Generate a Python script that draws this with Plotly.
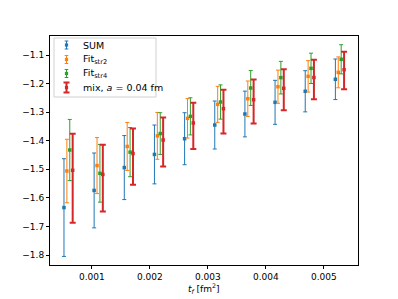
import plotly.graph_objects as go

# ---- data ----
t_f = [0.00052, 0.00104, 0.00156, 0.00208, 0.00260, 0.00312, 0.00364, 0.00416, 0.00468, 0.00520]
offsets = [0.0, 0.00005, 0.00010, 0.00015]

sum_y = [-1.634, -1.574, -1.494, -1.448, -1.393, -1.345, -1.3065, -1.2657, -1.227, -1.185]
sum_err = [0.171, 0.131, 0.112, 0.103, 0.091, 0.084, 0.080, 0.077, 0.072, 0.071]

str2_y = [-1.506, -1.487, -1.420, -1.383, -1.3217, -1.2727, -1.253, -1.211, -1.1747, -1.1607]
str2_err = [0.111, 0.098, 0.084, 0.082, 0.069, 0.063, 0.062, 0.058, 0.055, 0.054]

str4_y = [-1.4325, -1.514, -1.440, -1.375, -1.3147, -1.2645, -1.2155, -1.1793, -1.1467, -1.115]
str4_err = [0.107, 0.101, 0.086, 0.073, 0.065, 0.060, 0.061, 0.057, 0.053, 0.051]

mix_y = [-1.5035, -1.518, -1.445, -1.3975, -1.338, -1.288, -1.2565, -1.2167, -1.179, -1.1513]
mix_err_plus = [0.128, 0.104, 0.088, 0.079, 0.071, 0.066, 0.071, 0.067, 0.062, 0.063]
mix_err_minus = [0.184, 0.130, 0.109, 0.093, 0.091, 0.087, 0.083, 0.077, 0.076, 0.069]

names = ["SUM", "Fit<sub>str2</sub>", "Fit<sub>str4</sub>", "mix, <i>a</i> = 0.04 fm"]
colors = ["#1f77b4", "#ff7f0e", "#2ca02c", "#d62728"]
x_title = "<i>t</i><sub><i>f</i></sub> [fm<sup>2</sup>]"

x_ticks = [0.001, 0.002, 0.003, 0.004, 0.005]
x_ticklabels = ["0.001", "0.002", "0.003", "0.004", "0.005"]
y_ticks = [-1.8, -1.7, -1.6, -1.5, -1.4, -1.3, -1.2, -1.1]
y_ticklabels = ["\u22121.8", "\u22121.7", "\u22121.6", "\u22121.5", "\u22121.4", "\u22121.3", "\u22121.2", "\u22121.1"]

FONT = "DejaVu Sans"

# page geometry: the html body has an 8px margin, so the figure is offset by 8px
BODY = 8
W, H = 398 - BODY, 299 - BODY
ML, MR, MT, MB = 50 - BODY, 40, 36 - BODY, 34
PLOT_L, PLOT_T = 50, 36                      # plot area top-left on the page
PW, PH = W - ML - MR, H - MT - MB            # 308 x 229


def dx(px):
    return (px - PLOT_L) / PW


def dy(py):
    return 1 - (py - PLOT_T) / PH


fig = go.Figure()

series = [
    (sum_y, sum_err, sum_err, 1, 2),
    (str2_y, str2_err, str2_err, 1, 2),
    (str4_y, str4_err, str4_err, 1, 2),
    (mix_y, mix_err_plus, mix_err_minus, 2, 3),
]

for i, (ys, ep, em, thick, capw) in enumerate(series):
    xs = [t + offsets[i] for t in t_f]
    fig.add_trace(go.Scatter(
        x=xs, y=ys, mode="markers", name=names[i], showlegend=False,
        marker=dict(symbol="square", size=3.5, color=colors[i]),
        error_y=dict(type="data", symmetric=False, array=ep, arrayminus=em,
                     color=colors[i], thickness=thick, width=capw),
    ))

# ---- custom legend (matplotlib style errorbar handles) ----
shapes = []
annotations = []
shapes.append(dict(type="rect", xref="x domain", yref="y domain",
                   x0=dx(54), x1=dx(156), y0=dy(97), y1=dy(38),
                   line=dict(color="#d0d0d0", width=1), fillcolor="rgba(255,255,255,0.8)",
                   layer="above"))
entry_y = [45, 59.5, 73.5, 87.5]
hx = 66.5
for i, name in enumerate(names):
    cy = entry_y[i]
    thick = 2 if i == 3 else 1
    half_h = 5 if i == 3 else 4
    cap = 3 if i == 3 else 1.8
    shapes.append(dict(type="line", xref="x domain", yref="y domain",
                       x0=dx(hx), x1=dx(hx), y0=dy(cy - half_h), y1=dy(cy + half_h),
                       line=dict(color=colors[i], width=thick), layer="above"))
    for s in (-1, 1):
        shapes.append(dict(type="line", xref="x domain", yref="y domain",
                           x0=dx(hx - cap), x1=dx(hx + cap),
                           y0=dy(cy + s * half_h), y1=dy(cy + s * half_h),
                           line=dict(color=colors[i], width=thick), layer="above"))
    shapes.append(dict(type="rect", xref="x domain", yref="y domain",
                       x0=dx(hx - 1.6), x1=dx(hx + 1.6), y0=dy(cy + 1.6), y1=dy(cy - 1.6),
                       line=dict(width=0), fillcolor=colors[i], layer="above"))
    annotations.append(dict(xref="x domain", yref="y domain", x=dx(81), y=dy(cy),
                            text=name, showarrow=False, xanchor="left", yanchor="middle",
                            font=dict(family=FONT, size=9.5, color="black")))

# x-axis title placed below tick labels
annotations.append(dict(xref="x domain", yref="y domain", x=0.5, y=dy(288),
                        text=x_title, showarrow=False, xanchor="center", yanchor="middle",
                        font=dict(family=FONT, size=9, color="black")))

fig.update_layout(
    width=W, height=H,
    margin=dict(l=ML, r=MR, t=MT, b=MB),
    paper_bgcolor="white", plot_bgcolor="white",
    font=dict(family=FONT, size=9, color="black"),
    showlegend=False,
    shapes=shapes, annotations=annotations,
)

fig.update_xaxes(
    range=[0.000279, 0.00559],
    tickmode="array", tickvals=x_ticks, ticktext=x_ticklabels,
    showline=True, linecolor="black", linewidth=1, mirror=True,
    ticks="outside", ticklen=3, tickcolor="black", showgrid=False, zeroline=False,
    tickfont=dict(family=FONT, size=9),
)
fig.update_yaxes(
    range=[-1.835, -1.0335],
    tickmode="array", tickvals=y_ticks, ticktext=y_ticklabels,
    showline=True, linecolor="black", linewidth=1, mirror=True,
    ticks="outside", ticklen=3, tickcolor="black", showgrid=False, zeroline=False,
    tickfont=dict(family=FONT, size=9),
)

fig.write_html("out.html")
